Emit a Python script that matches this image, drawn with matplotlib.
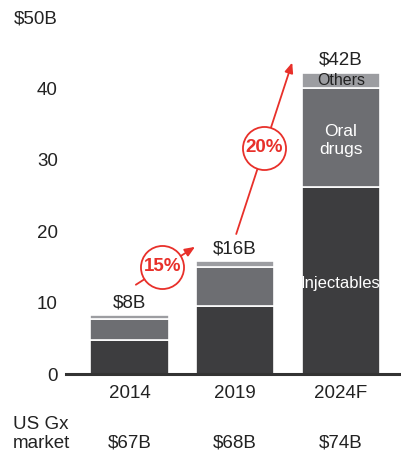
import matplotlib
matplotlib.use("Agg")
import matplotlib.pyplot as plt
import numpy as np

plt.rcParams['font.family'] = ['Liberation Sans', 'DejaVu Sans']

years = ["2014", "2019", "2024F"]
injectables = [4.8, 9.5, 26.2]
oral = [2.9, 5.5, 13.9]
others = [0.6, 0.8, 2.1]
totals = ["$8B", "$16B", "$42B"]
gx_market = ["$67B", "$68B", "$74B"]
yticks = [0, 10, 20, 30, 40, 50]
ytick_labels = ["0", "10", "20", "30", "40", "$50B"]
cagr = ["15%", "20%"]

c_inj = "#3d3d3f"
c_oral = "#6d6e72"
c_oth = "#9c9da1"
red = "#e8302a"
txt = "#222222"
fs = 13.5

fig = plt.figure(figsize=(4.01, 4.55), dpi=100)
ax = fig.add_axes([0.165, 0.178, 0.835, 0.785])

x = np.arange(len(years))
w = 0.74
inj = np.array(injectables)
ora = np.array(oral)
oth = np.array(others)
ax.bar(x, inj, w, color=c_inj, edgecolor="white", linewidth=1.2)
ax.bar(x, ora, w, bottom=inj, color=c_oral, edgecolor="white", linewidth=1.2)
ax.bar(x, oth, w, bottom=inj + ora, color=c_oth, edgecolor="white", linewidth=1.2)

tot = inj + ora + oth
for i, t in enumerate(totals):
    ax.text(x[i], tot[i] + 0.5, t, ha="center", va="bottom", fontsize=fs, color=txt)

# segment labels in last bar
ax.text(x[2], inj[2] / 2 - 0.4, "Injectables", ha="center", va="center", fontsize=12, color="white")
ax.text(x[2], inj[2] + ora[2] / 2 - 0.4, "Oral\ndrugs", ha="center", va="center", fontsize=12.5,
        color="white", linespacing=1.25)
ax.text(x[2], inj[2] + ora[2] + oth[2] / 2 - 0.1, "Others", ha="center", va="center",
        fontsize=11.5, color=txt)

# CAGR arrows
arrows = [((0.06, 12.5), (0.62, 17.8), (0.31, 15.0)),
          ((1.01, 19.6), (1.54, 43.6), (1.27, 31.7))]
for (s, e, c), lab in zip(arrows, cagr):
    ax.annotate("", xy=e, xytext=s,
                arrowprops=dict(arrowstyle="-|>,head_length=0.6,head_width=0.25",
                                color=red, lw=1.3, shrinkA=0, shrinkB=0))
    ax.plot([c[0]], [c[1]], marker="o", markersize=31, markerfacecolor="white",
            markeredgecolor=red, markeredgewidth=1.3, zorder=5)
    ax.text(c[0], c[1], lab, ha="center", va="center", fontsize=13.5, color=red,
            fontweight="bold", zorder=6)

ax.set_xlim(-0.6, 2.57)
ax.set_ylim(0, 50)
ax.set_yticks(yticks)
ax.set_yticklabels(ytick_labels)
ax.set_xticks(x)
ax.set_xticklabels(years)
ax.tick_params(axis="both", length=0, labelsize=fs, colors=txt)
ax.tick_params(axis="y", pad=6)
ax.tick_params(axis="x", pad=8)
for sp in ["top", "right", "left"]:
    ax.spines[sp].set_visible(False)
ax.spines["bottom"].set_linewidth(2.2)
ax.spines["bottom"].set_color("#333333")

fig.text(13 / 401, 1 - 434 / 455, "US Gx\nmarket", ha="left", va="center", fontsize=fs,
         color=txt, linespacing=1.2)
gy = -(443 - 374) / (0.785 * 455)
for i, g in enumerate(gx_market):
    ax.text(x[i], gy, g, ha="center", va="center", fontsize=fs, color=txt,
            transform=ax.get_xaxis_transform())

fig.savefig("out.png", dpi=100)
